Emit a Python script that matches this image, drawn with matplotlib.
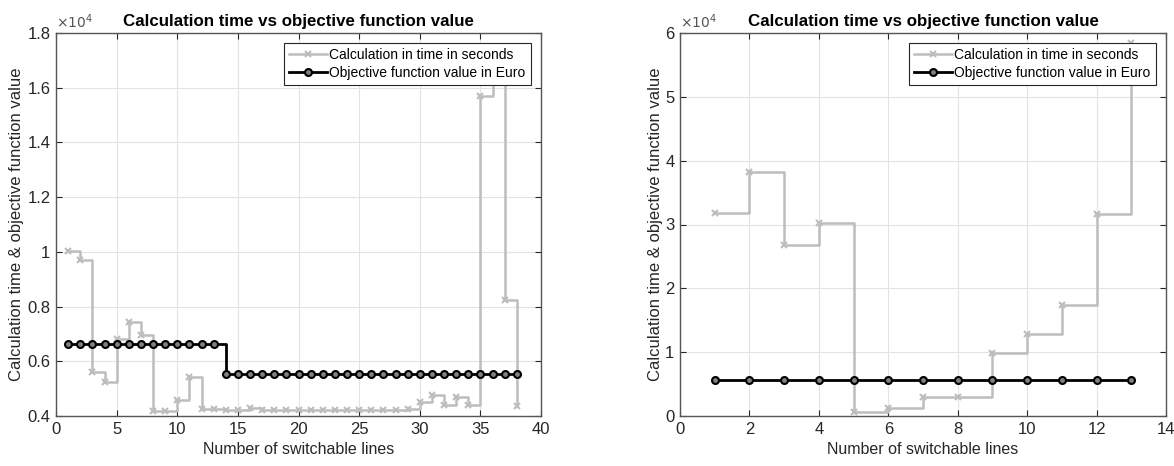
import matplotlib.pyplot as plt
from matplotlib.ticker import FuncFormatter

plt.rcParams['font.family'] = ['Liberation Sans', 'DejaVu Sans']

# left panel: 38 switchable lines
lines_a = list(range(1, 39))
time_a = [10030, 9700, 5600, 5250, 6800, 7430, 6950, 4200, 4200, 4600,
          5410, 4250, 4250, 4230, 4220, 4280, 4230, 4230, 4220, 4230,
          4230, 4230, 4230, 4230, 4230, 4230, 4230, 4230, 4240, 4520,
          4780, 4400, 4700, 4400, 15700, 17200, 8230, 4350]
obj_a = [6620] * 13 + [5550] * 25

# right panel: 13 switchable lines
lines_b = list(range(1, 14))
time_b = [31750, 38200, 26800, 30300, 700, 1250, 3000, 3000, 9900,
          12800, 17400, 31700, 58500]
obj_b = [5600] * 13

title = 'Calculation time vs objective function value'
label_time = 'Calculation in time in seconds'
label_obj = 'Objective function value in Euro'

fig = plt.figure(figsize=(11.74, 4.66), dpi=100)
ax1 = fig.add_axes([56 / 1174, 50 / 466, 485 / 1174, 383 / 466])
ax2 = fig.add_axes([680 / 1174, 50 / 466, 486 / 1174, 383 / 466])

fmt = FuncFormatter(lambda v, p: '%g' % round(v / 1e4, 4))
frame = '#262626'


def draw(ax, x, t, o, xlim, xticks, ylim, yticks):
    ax.step(x, t, where='post', color='#bdbdbd', lw=1.8, marker='x',
            ms=5, mew=1.5, label=label_time, zorder=2)
    ax.step(x, o, where='post', color='black', lw=2.0, marker='o',
            ms=5, mew=1.5, mfc='#808080', label=label_obj, zorder=3)
    ax.set_xlim(*xlim)
    ax.set_ylim(*ylim)
    ax.set_xticks(xticks)
    ax.set_yticks(yticks)
    ax.yaxis.set_major_formatter(fmt)
    ax.grid(True, color='#e3e3e3', lw=0.8)
    ax.set_axisbelow(True)
    ax.tick_params(direction='in', top=True, right=True, length=4,
                   labelsize=12, colors=frame, labelcolor='#262626', pad=4)
    for s in ax.spines.values():
        s.set_color('#555555')
        s.set_linewidth(1.0)
    ax.set_title(title, fontsize=12.2, fontweight='bold', pad=5)
    ax.set_xlabel('Number of switchable lines', fontsize=11.5, color='#262626')
    ax.set_ylabel('Calculation time & objective function value', fontsize=12,
                  color='#262626')
    ax.text(0.0, 1.005, r'$\times 10^{4}$', transform=ax.transAxes,
            fontsize=10, color='#555555', ha='left', va='bottom')
    leg = ax.legend(loc='upper right', fontsize=10, frameon=True, fancybox=False,
                    borderaxespad=0.7, handlelength=2.7, handletextpad=0.2,
                    borderpad=0.4, labelspacing=0.25)
    leg.get_frame().set_edgecolor('#262626')
    leg.get_frame().set_linewidth(0.8)
    leg.get_frame().set_alpha(1.0)


draw(ax1, lines_a, time_a, obj_a, (0, 40), range(0, 41, 5),
     (4000, 18000), range(4000, 18001, 2000))
draw(ax2, lines_b, time_b, obj_b, (0, 14), range(0, 15, 2),
     (0, 60000), range(0, 60001, 10000))

ax1.yaxis.set_label_coords(-0.067, 0.5)
ax2.yaxis.set_label_coords(-0.036, 0.5)

fig.savefig('out.png', dpi=100)
